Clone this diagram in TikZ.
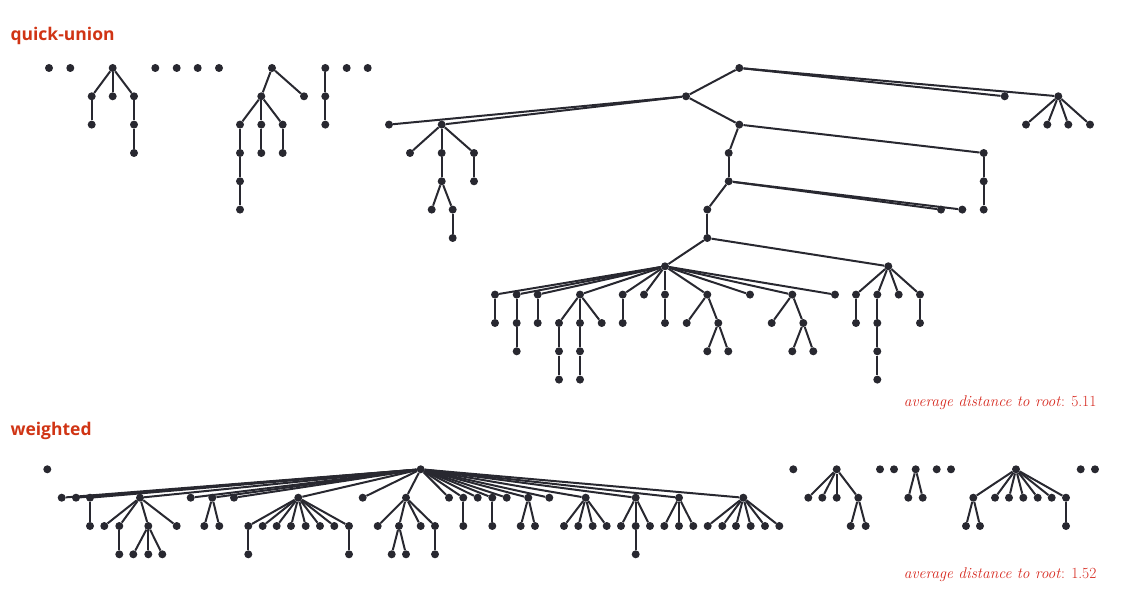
\documentclass[tikz,border=0pt]{standalone}
\usepackage{fontspec}
\newfontfamily\headfont{Open Sans}
\usetikzlibrary{positioning}
\definecolor{dotc}{RGB}{40,40,48}
\definecolor{titlec}{RGB}{208,52,20}
\definecolor{notec}{RGB}{214,40,30}

\begin{document}
\begin{tikzpicture}[
    x=1pt, y=-1pt,
    font=\small
]
\tikzset{
    dot/.style = {circle, fill=dotc, inner sep=0pt, minimum size=8pt},
    edgen/.style = {line width=2pt, dotc},
    headlabel/.style = {anchor=west, text=titlec, font=\headfont\bfseries\fontsize{17.5}{20}\selectfont},
    notelabel/.style = {anchor=east, text=notec, font=\fontsize{15.5}{18}\selectfont}
}
\useasboundingbox (0,0) rectangle (1137,596);

% quick-union
\node[headlabel] (qtitle) at (7,36) {quick-union};
\foreach \n/\x/\y in {
    q1/49/68, q2/70.3/68, q3/155.3/68, q4/176.7/68, q5/197.7/68, q6/219/68,
    q7/346.7/68, q8/367.7/68,
    qa/112.7/68, qa1/91.7/96.3, qa2/112.7/96.3, qa3/134/96.3,
    qa11/91.7/124.6, qa31/134/124.6, qa32/134/153,
    qb/272/68, qb1/261.3/96.3, qb2/304/96.3,
    qb11/240/124.6, qb12/261.3/124.6, qb13/282.7/124.6,
    qb111/240/153, qb112/240/181.3, qb113/240/209.6, qb121/261.3/153, qb131/282.7/153,
    qc/325.3/68, qc1/325.3/96.3, qc2/325.3/124.6,
    qr/739.3/68, qh/686/96.3, qe/1004.7/96.3, qf/1058.3/96.3,
    qf1/1026/124.6, qf2/1047.3/124.6, qf3/1068.3/124.6, qf4/1090/124.6,
    qh1/389/124.6, qg/441.7/124.6, qk/739.3/124.6,
    qg1/410/153, qg2/441.7/153, qg3/474/153, qg21/441.7/181.3, qg31/474/181.3,
    qg22/431.7/209.6, qg23/452.7/209.6, qg24/452.7/238,
    qk1/728.7/153, qk2/983.7/153, qk21/983.7/181.3, qk22/983.7/209.6,
    qm/728.7/181.3, qn/707.3/209.6, qm1/941/209.6, qm2/962.3/209.6,
    qp/707.3/238, qq/665/266.3, qs/888.3/266.3,
    qq1/495/294.6, qq2/516.7/294.6, qq3/537.7/294.6, qq4/580/294.6,
    qq5/622.7/294.6, qq6/644/294.6, qq7/665/294.6, qq8/707.3/294.6,
    qq9/750/294.6, qq10/792.3/294.6, qq11/835/294.6,
    qq1a/495/323, qq2a/516.7/323, qq3a/537.7/323, qq4a/559/323, qq4b/580/323,
    qq4c/601.7/323, qq5a/622.7/323, qq7a/665/323, qq8a/686.7/323, qq8b/718.3/323,
    qq10a/771.7/323, qq10b/803.3/323,
    qq2b/516.7/351.3, qq4d/559/351.3, qq4e/580/351.3, qq8c/707.3/351.3,
    qq8d/728.3/351.3, qq10c/792.3/351.3, qq10d/813.3/351.3,
    qq4f/559/379.6, qq4g/580/379.6,
    qs1/856/294.6, qs2/877.3/294.6, qs3/898.7/294.6, qs4/920/294.6,
    qs1a/856/323, qs2a/877.3/323, qs4a/920/323, qs2b/877.3/351.3, qs2c/877.3/379.6}
    \node[dot] (\n) at (\x,\y) {};
\foreach \u/\v in {
    qa/qa1, qa/qa2, qa/qa3, qa1/qa11, qa3/qa31, qa31/qa32,
    qb/qb1, qb/qb2, qb1/qb11, qb1/qb12, qb1/qb13, qb11/qb111, qb111/qb112,
    qb112/qb113, qb12/qb121, qb13/qb131, qc/qc1, qc1/qc2,
    qr/qh, qr/qe, qr/qf, qf/qf1, qf/qf2, qf/qf3, qf/qf4,
    qh/qh1, qh/qg, qh/qk, qg/qg1, qg/qg2, qg/qg3, qg2/qg21, qg3/qg31,
    qg21/qg22, qg21/qg23, qg23/qg24,
    qk/qk1, qk/qk2, qk2/qk21, qk21/qk22, qk1/qm, qm/qn, qm/qm1, qm/qm2,
    qn/qp, qp/qq, qp/qs,
    qq1/qq1a, qq2/qq2a, qq2a/qq2b, qq3/qq3a, qq4/qq4a, qq4/qq4b, qq4/qq4c,
    qq4a/qq4d, qq4d/qq4f, qq4b/qq4e, qq4e/qq4g, qq5/qq5a, qq7/qq7a,
    qq8/qq8a, qq8/qq8b, qq8b/qq8c, qq8b/qq8d,
    qq10/qq10a, qq10/qq10b, qq10b/qq10c, qq10b/qq10d,
    qs/qs1, qs/qs2, qs/qs3, qs/qs4, qs1/qs1a, qs2/qs2a, qs2a/qs2b, qs2b/qs2c, qs4/qs4a}
    \draw[edgen] (\u) -- (\v);
\foreach \v in {qq1,qq2,qq3,qq4,qq5,qq6,qq7,qq8,qq9,qq10,qq11}
    \draw[edgen] (qq) -- (\v);
\node[notelabel] (qnote) at (1100,403) {\textit{average distance to root}: 5.11};

% weighted
\node[headlabel] (wtitle) at (7,431) {weighted};
\foreach \n/\x/\y in {
    w1/47.3/469.3, w2/793.3/469.3, w3/880/469.3, w4/894/469.3,
    w5/936.7/469.3, w6/951/469.3, w7/1080.7/469.3, w8/1095/469.3,
    wr/420.7/469.3,
    wa/61.7/497.7, wb/76/497.7, wc/90/497.7, wd/140/497.7, we/190.7/497.7,
    wf/212.3/497.7, wg/234/497.7, wh/298.3/497.7, wi/362.7/497.7, wj/406/497.7,
    wk/449/497.7, wl/463.3/497.7, wm/477.7/497.7, wn/492.3/497.7, wo/506.7/497.7,
    wp/528.3/497.7, wq/549.3/497.7, ws/585.7/497.7, wt/635.7/497.7,
    wu/679/497.7, wv/743.3/497.7,
    wc1/90/526, wd1/104.3/526, wd2/119.3/526, wd3/148.3/526, wd4/176.7/526,
    wf1/204.3/526, wf2/219.3/526,
    wh1/248.3/526, wh2/262.7/526, wh3/276.7/526, wh4/291/526, wh5/305.7/526,
    wh6/320/526, wh7/334.3/526, wh8/349/526,
    wj1/377.7/526, wj2/399/526, wj3/420.7/526, wj4/435/526,
    wl1/463.3/526, wn1/492.3/526, wp1/520.7/526, wp2/535/526,
    ws1/564/526, ws2/578.3/526, ws3/592.7/526, ws4/606.7/526,
    wt1/621/526, wt2/635.7/526, wt3/650/526, wu1/664.3/526, wu2/679/526, wu3/693.3/526,
    wv1/707.7/526, wv2/722.3/526, wv3/736/526, wv4/750.7/526, wv5/765/526, wv6/779.3/526,
    wd21/119.3/554.3, wd31/133.3/554.3, wd32/148.3/554.3, wd33/162.3/554.3,
    wh11/248.3/554.3, wh81/349/554.3, wj21/391.7/554.3, wj22/406/554.3,
    wj41/435/554.3, wt21/635.7/554.3,
    wx/836.7/469.3, wx1/808.3/497.7, wx2/822.3/497.7, wx3/836.7/497.7, wx4/858.3/497.7,
    wx41/850.7/526, wx42/865.7/526,
    wy/915.7/469.3, wy1/908.3/497.7, wy2/922.7/497.7,
    wz/1016/469.3, wz1/973.3/497.7, wz2/995/497.7, wz3/1009/497.7, wz4/1023.3/497.7,
    wz5/1037.7/497.7, wz6/1051.7/497.7, wz7/1066/497.7,
    wz11/966/526, wz12/980/526, wz71/1066/526}
    \node[dot] (\n) at (\x,\y) {};
\foreach \v in {wa,wb,wc,wd,we,wf,wg,wh,wi,wj,wk,wl,wm,wn,wo,wp,wq,ws,wt,wu,wv}
    \draw[edgen] (wr) -- (\v);
\foreach \u/\v in {
    wc/wc1, wd/wd1, wd/wd2, wd/wd3, wd/wd4, wd2/wd21, wd3/wd31, wd3/wd32, wd3/wd33,
    wf/wf1, wf/wf2,
    wh/wh1, wh/wh2, wh/wh3, wh/wh4, wh/wh5, wh/wh6, wh/wh7, wh/wh8, wh1/wh11, wh8/wh81,
    wj/wj1, wj/wj2, wj/wj3, wj/wj4, wj2/wj21, wj2/wj22, wj4/wj41,
    wl/wl1, wn/wn1, wp/wp1, wp/wp2,
    ws/ws1, ws/ws2, ws/ws3, ws/ws4, wt/wt1, wt/wt2, wt/wt3, wt2/wt21,
    wu/wu1, wu/wu2, wu/wu3,
    wv/wv1, wv/wv2, wv/wv3, wv/wv4, wv/wv5, wv/wv6,
    wx/wx1, wx/wx2, wx/wx3, wx/wx4, wx4/wx41, wx4/wx42,
    wy/wy1, wy/wy2,
    wz/wz1, wz/wz2, wz/wz3, wz/wz4, wz/wz5, wz/wz6, wz/wz7, wz1/wz11, wz1/wz12, wz7/wz71}
    \draw[edgen] (\u) -- (\v);
\node[notelabel] (wnote) at (1100,575) {\textit{average distance to root}: 1.52};
\end{tikzpicture}
\end{document}
